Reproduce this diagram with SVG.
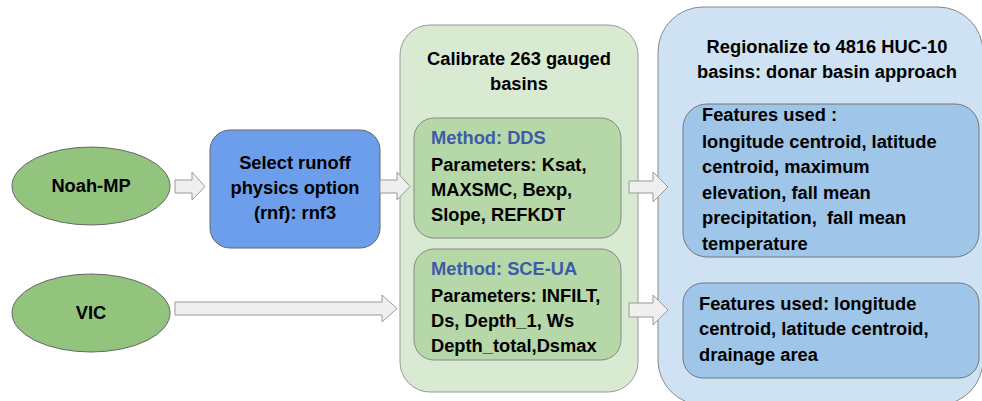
<svg xmlns="http://www.w3.org/2000/svg" width="982" height="401" viewBox="0 0 982 401">
<style>
text{font-family:"Liberation Sans",Arial,sans-serif;font-weight:bold;font-size:18.3px;fill:#000}
.c{text-anchor:middle}
.m{fill:#3d5ca6}
.ell{fill:#93c47d;stroke:#666;stroke-width:1}
.arr{fill:#efefef;stroke:#999;stroke-width:1}
</style>
<rect width="982" height="401" fill="#fff"/>
<g id="calibrate">
<rect x="400" y="25" width="238" height="367" rx="30" fill="#d9ead3" stroke="#999"/>
<text class="c" x="519" y="65">Calibrate 263 gauged</text>
<text class="c" x="519" y="90">basins</text>
</g>
<g id="regionalize">
<rect x="658" y="7" width="325" height="398" rx="45" fill="#cfe2f3" stroke="#888"/>
<text class="c" x="827" y="53">Regionalize to 4816 HUC-10</text>
<text class="c" x="827" y="78">basins: donar basin approach</text>
</g>
<g id="noahmp">
<ellipse class="ell" cx="91" cy="186" rx="79" ry="39"/>
<text class="c" x="91" y="192">Noah-MP</text>
</g>
<g id="vic">
<ellipse class="ell" cx="91" cy="313" rx="79" ry="39"/>
<text class="c" x="91" y="319">VIC</text>
</g>
<g id="rnf">
<rect x="210" y="130" width="170" height="118" rx="20" fill="#6d9eeb" stroke="#666"/>
<text class="c" x="295" y="169">Select runoff</text>
<text class="c" x="295" y="194">physics option</text>
<text class="c" x="295" y="219">(rnf): rnf3</text>
</g>
<g id="dds">
<rect x="414" y="118" width="207" height="120" rx="20" fill="#b6d7a8" stroke="#888"/>
<text class="m" x="431" y="144">Method: DDS</text>
<text x="431" y="171">Parameters: Ksat,</text>
<text x="431" y="196">MAXSMC, Bexp,</text>
<text x="431" y="221">Slope, REFKDT</text>
</g>
<g id="sceua">
<rect x="414" y="249" width="207" height="111" rx="20" fill="#b6d7a8" stroke="#888"/>
<text class="m" x="431" y="275">Method: SCE-UA</text>
<text x="431" y="302">Parameters: INFILT,</text>
<text x="431" y="327">Ds, Depth_1, Ws</text>
<text x="431" y="352">Depth_total,Dsmax</text>
</g>
<g id="features1">
<rect x="683" y="104" width="296" height="153" rx="24" fill="#9fc5e8" stroke="#777"/>
<text x="702" y="121">Features used :</text>
<text x="702" y="148">longitude centroid, latitude</text>
<text x="702" y="173">centroid, maximum</text>
<text x="702" y="199">elevation, fall mean</text>
<text x="702" y="224" xml:space="preserve">precipitation,  fall mean</text>
<text x="702" y="250">temperature</text>
</g>
<g id="features2">
<rect x="683" y="283" width="296" height="95" rx="20" fill="#9fc5e8" stroke="#777"/>
<text x="699" y="310">Features used: longitude</text>
<text x="699" y="335">centroid, latitude centroid,</text>
<text x="699" y="361">drainage area</text>
</g>
<g id="connectors">
<path class="arr" d="M175,180 H192 V172 L205,186.5 L192,200 V193 H175 Z"/>
<path class="arr" d="M380,180 H397 V172 L410,186.5 L397,200 V193 H380 Z"/>
<path class="arr" d="M175,302 H382 V295 L397,308.5 L382,322 V315 H175 Z"/>
<path class="arr" d="M629,181 H653 V172 L668,187 L653,202 V193 H629 Z"/>
<path class="arr" d="M629,303 H653 V295 L668,310 L653,325 V317 H629 Z"/>
</g>
</svg>
